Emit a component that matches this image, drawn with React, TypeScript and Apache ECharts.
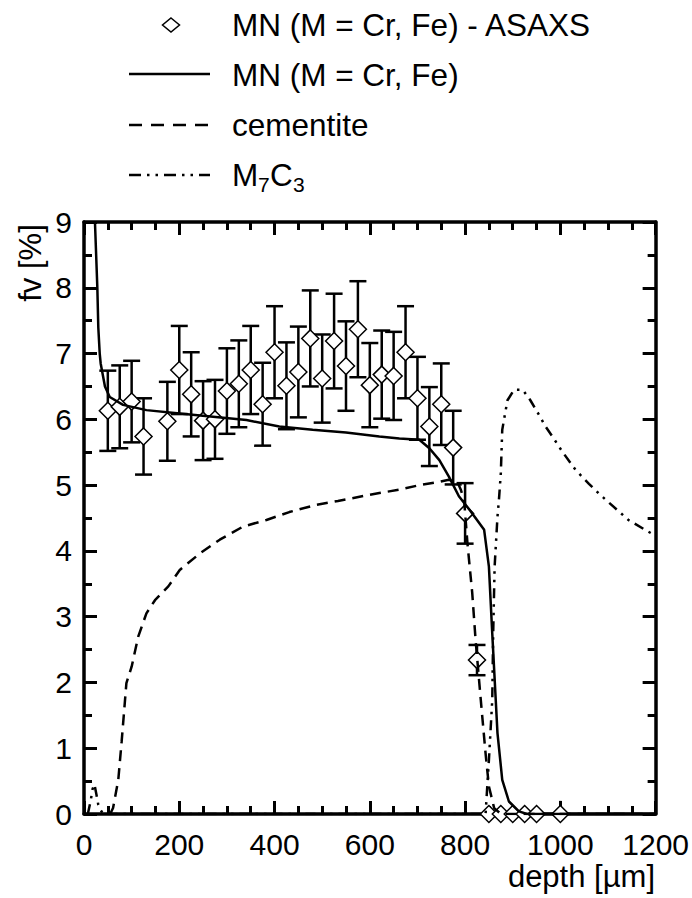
import React, { useEffect, useRef } from "react";
import * as echarts from "echarts";

// ASAXS measurement (diamonds with error bars)
const asaxsDepth = [50, 75, 100, 125, 175, 200, 225, 250, 275, 300, 325, 350, 375, 400, 425, 450, 475, 500, 525, 550, 575, 600, 625, 650, 675, 700, 725, 750, 775, 800, 825, 850, 875, 900, 925, 950, 1000];
const asaxsFv = [6.13, 6.19, 6.27, 5.74, 5.97, 6.75, 6.38, 5.98, 6.0, 6.43, 6.54, 6.75, 6.23, 7.02, 6.51, 6.72, 7.23, 6.62, 7.19, 6.81, 7.37, 6.52, 6.68, 6.66, 7.02, 6.32, 5.89, 6.23, 5.57, 4.57, 2.34, 0, 0, 0, 0, 0, 0];
const asaxsErr = [0.61, 0.63, 0.62, 0.58, 0.6, 0.67, 0.64, 0.6, 0.6, 0.65, 0.66, 0.67, 0.63, 0.7, 0.66, 0.69, 0.73, 0.67, 0.72, 0.68, 0.73, 0.64, 0.67, 0.67, 0.7, 0.63, 0.6, 0.62, 0.56, 0.46, 0.23, 0, 0, 0, 0, 0, 0.2];

// MN (M = Cr, Fe) calculated, solid line
const mnDepth = [23, 28, 30, 33, 35, 44, 54, 82, 131, 201, 271, 341, 410, 480, 550, 620, 662, 704, 725, 746, 766, 787, 812, 840, 850, 857, 868, 878, 892, 913, 930, 1200];
const mnFv = [9.0, 8.0, 7.4, 7.0, 6.85, 6.5, 6.34, 6.22, 6.14, 6.09, 6.04, 5.99, 5.89, 5.84, 5.8, 5.74, 5.71, 5.69, 5.56, 5.38, 5.13, 4.83, 4.6, 4.32, 3.76, 2.75, 1.23, 0.52, 0.19, 0.04, 0, 0];

// cementite, dashed line
const cemDepth = [55, 61, 72, 79, 89, 100, 114, 131, 149, 177, 201, 243, 285, 334, 383, 431, 487, 533, 620, 662, 704, 746, 766, 784, 791, 798, 805, 815, 822, 833, 843, 850, 861, 875, 1200];
const cemFv = [0, 0.09, 0.52, 1.1, 1.99, 2.24, 2.7, 3.05, 3.25, 3.46, 3.71, 3.96, 4.17, 4.37, 4.47, 4.59, 4.7, 4.76, 4.88, 4.93, 5.0, 5.05, 5.08, 5.05, 4.93, 4.77, 4.11, 3.36, 2.65, 1.73, 0.92, 0.42, 0.09, 0, 0];

// M7C3, dash-dot-dot line
const m7Depth = [8, 14, 18, 22, 26, 30, 35, 40, 843, 850, 857, 859, 862, 868, 871, 875, 878, 884, 889, 903, 921, 937, 955, 969, 986, 1004, 1032, 1060, 1081, 1143, 1178, 1195];
const m7Fv = [0, 0.2, 0.38, 0.45, 0.3, 0.14, 0.06, 0, 0, 0.82, 1.73, 2.75, 3.76, 4.52, 4.77, 5.18, 5.84, 6.09, 6.29, 6.45, 6.45, 6.29, 6.07, 5.89, 5.71, 5.51, 5.23, 5.02, 4.87, 4.47, 4.32, 4.25];

const xMin = 0, xMax = 1200, xStep = 200;
const yMin = 0, yMax = 9, yStep = 1;

const legendLabels = ["MN (M = Cr, Fe) - ASAXS", "MN (M = Cr, Fe)", "cementite"];

const FONT = "'Liberation Sans', Arial, Helvetica, sans-serif";

export default function App() {
  const ref = useRef<HTMLDivElement>(null);
  useEffect(() => {
    if (!ref.current) return;
    const chart = echarts.init(ref.current, undefined, { renderer: "svg" });
    const zip = (a: number[], b: number[]) => a.map((v, i) => [v, b[i]]);
    const errData = asaxsDepth
      .map((d, i) => [d, asaxsFv[i] - asaxsErr[i], asaxsFv[i] + asaxsErr[i], asaxsFv[i]])
      .filter((r, i) => asaxsErr[i] > 0);

    const axisLine = { show: true, onZero: false, lineStyle: { color: "#000", width: 3.5 } };
    const tick = { show: true, inside: true, length: 13, lineStyle: { color: "#000", width: 3 } };
    const minor = (n: number) => ({ show: true, splitNumber: n, length: 8, lineStyle: { color: "#000", width: 3 } });
    const label = { show: true, fontSize: 30, color: "#000", fontFamily: FONT, formatter: (v: number) => String(v) };

    const lineCommon = { type: "line", showSymbol: false, symbol: "none", smooth: false, z: 5, clip: true };

    const legendFs = 31.5;
    const rows = [25, 75, 125, 175];
    const textX = 232;

    chart.setOption({
      animation: false,
      backgroundColor: "#fff",
      grid: { left: 84, right: 35, top: 222, bottom: 84, containLabel: false },
      xAxis: [
        {
          type: "value", min: xMin, max: xMax, interval: xStep, position: "bottom",
          axisLine, axisTick: tick, minorTick: minor(4), splitLine: { show: false }, minorSplitLine: { show: false },
          axisLabel: { ...label, margin: 15 },
        },
        {
          type: "value", min: xMin, max: xMax, interval: xStep, position: "top",
          axisLine, axisTick: tick, minorTick: minor(4), splitLine: { show: false }, minorSplitLine: { show: false },
          axisLabel: { show: false },
        },
      ],
      yAxis: [
        {
          type: "value", min: yMin, max: yMax, interval: yStep, position: "left",
          axisLine, axisTick: tick, minorTick: minor(2), splitLine: { show: false }, minorSplitLine: { show: false },
          axisLabel: { ...label, margin: 12 },
        },
        {
          type: "value", min: yMin, max: yMax, interval: yStep, position: "right",
          axisLine, axisTick: tick, minorTick: minor(2), splitLine: { show: false }, minorSplitLine: { show: false },
          axisLabel: { show: false },
        },
      ],
      series: [
        {
          type: "custom",
          name: "err",
          z: 3,
          data: errData,
          renderItem: (params: any, api: any) => {
            const x = api.value(0);
            const lo = api.coord([x, Math.max(0, api.value(1))]);
            const hi = api.coord([x, api.value(2)]);
            const hw = 8.5;
            const st = { stroke: "#000", lineWidth: 2.5 };
            const children: any[] = [
              { type: "line", shape: { x1: lo[0], y1: lo[1], x2: hi[0], y2: hi[1] }, style: st },
            ];
            if (api.value(3) > 0) {
              children.push(
                { type: "line", shape: { x1: hi[0] - hw, y1: hi[1], x2: hi[0] + hw, y2: hi[1] }, style: st },
                { type: "line", shape: { x1: lo[0] - hw, y1: lo[1], x2: lo[0] + hw, y2: lo[1] }, style: st },
              );
            }
            return { type: "group", children };
          },
        },
        {
          type: "scatter",
          name: "ASAXS",
          z: 4,
          symbol: "diamond",
          symbolSize: [17, 17],
          itemStyle: { color: "#fff", borderColor: "#000", borderWidth: 1.5, opacity: 1 },
          data: zip(asaxsDepth, asaxsFv),
          clip: false,
        },
        { ...lineCommon, name: "MN", data: zip(mnDepth, mnFv), lineStyle: { color: "#000", width: 2.5 } },
        { ...lineCommon, name: "cementite", data: zip(cemDepth, cemFv), lineStyle: { color: "#000", width: 2.5, type: [11, 7] } },
        { ...lineCommon, name: "M7C3", data: zip(m7Depth, m7Fv), lineStyle: { color: "#000", width: 2.5, type: [10, 6, 2.5, 6, 2.5, 6] } },
      ],
      graphic: [
        // legend symbols
        { type: "polygon", shape: { points: [[171, 18], [179.5, 25], [171, 32], [162.5, 25]] }, style: { fill: "#fff", stroke: "#000", lineWidth: 1.5 } },
        { type: "line", shape: { x1: 129, y1: rows[1] - 1, x2: 210, y2: rows[1] - 1 }, style: { stroke: "#000", lineWidth: 2.5 } },
        { type: "line", shape: { x1: 129, y1: rows[2], x2: 210, y2: rows[2] }, style: { stroke: "#000", lineWidth: 2.5, lineDash: [13, 9] } },
        { type: "line", shape: { x1: 129, y1: rows[3], x2: 210, y2: rows[3] }, style: { stroke: "#000", lineWidth: 2.5, lineDash: [12, 6, 2.5, 6, 2.5, 6] } },
        // legend texts
        ...legendLabels.map((t, i) => ({
          type: "text", x: textX, y: rows[i],
          style: { text: t, fontSize: legendFs, fontFamily: FONT, fill: "#000", textAlign: "left", textVerticalAlign: "middle" },
        })),
        { type: "text", x: textX, y: rows[3], style: { text: "M", fontSize: legendFs, fontFamily: FONT, fill: "#000", textAlign: "left", textVerticalAlign: "middle" } },
        { type: "text", x: textX + 26, y: rows[3] + 9, style: { text: "7", fontSize: 21, fontFamily: FONT, fill: "#000", textAlign: "left", textVerticalAlign: "middle" } },
        { type: "text", x: textX + 38, y: rows[3], style: { text: "C", fontSize: legendFs, fontFamily: FONT, fill: "#000", textAlign: "left", textVerticalAlign: "middle" } },
        { type: "text", x: textX + 61, y: rows[3] + 9, style: { text: "3", fontSize: 21, fontFamily: FONT, fill: "#000", textAlign: "left", textVerticalAlign: "middle" } },
        // axis titles
        { type: "text", x: 30, y: 263, rotation: Math.PI / 2, style: { text: "fv [%]", fontSize: 31, fontFamily: FONT, fill: "#000", textAlign: "center", textVerticalAlign: "middle" } },
        { type: "text", x: 655, y: 876, style: { text: "depth [µm]", fontSize: 31, fontFamily: FONT, fill: "#000", textAlign: "right", textVerticalAlign: "middle" } },
      ],
    });
    return () => chart.dispose();
  }, []);
  return <div ref={ref} style={{ position: "fixed", left: 0, top: 0, width: 692, height: 898, background: "#fff" }} />;
}
